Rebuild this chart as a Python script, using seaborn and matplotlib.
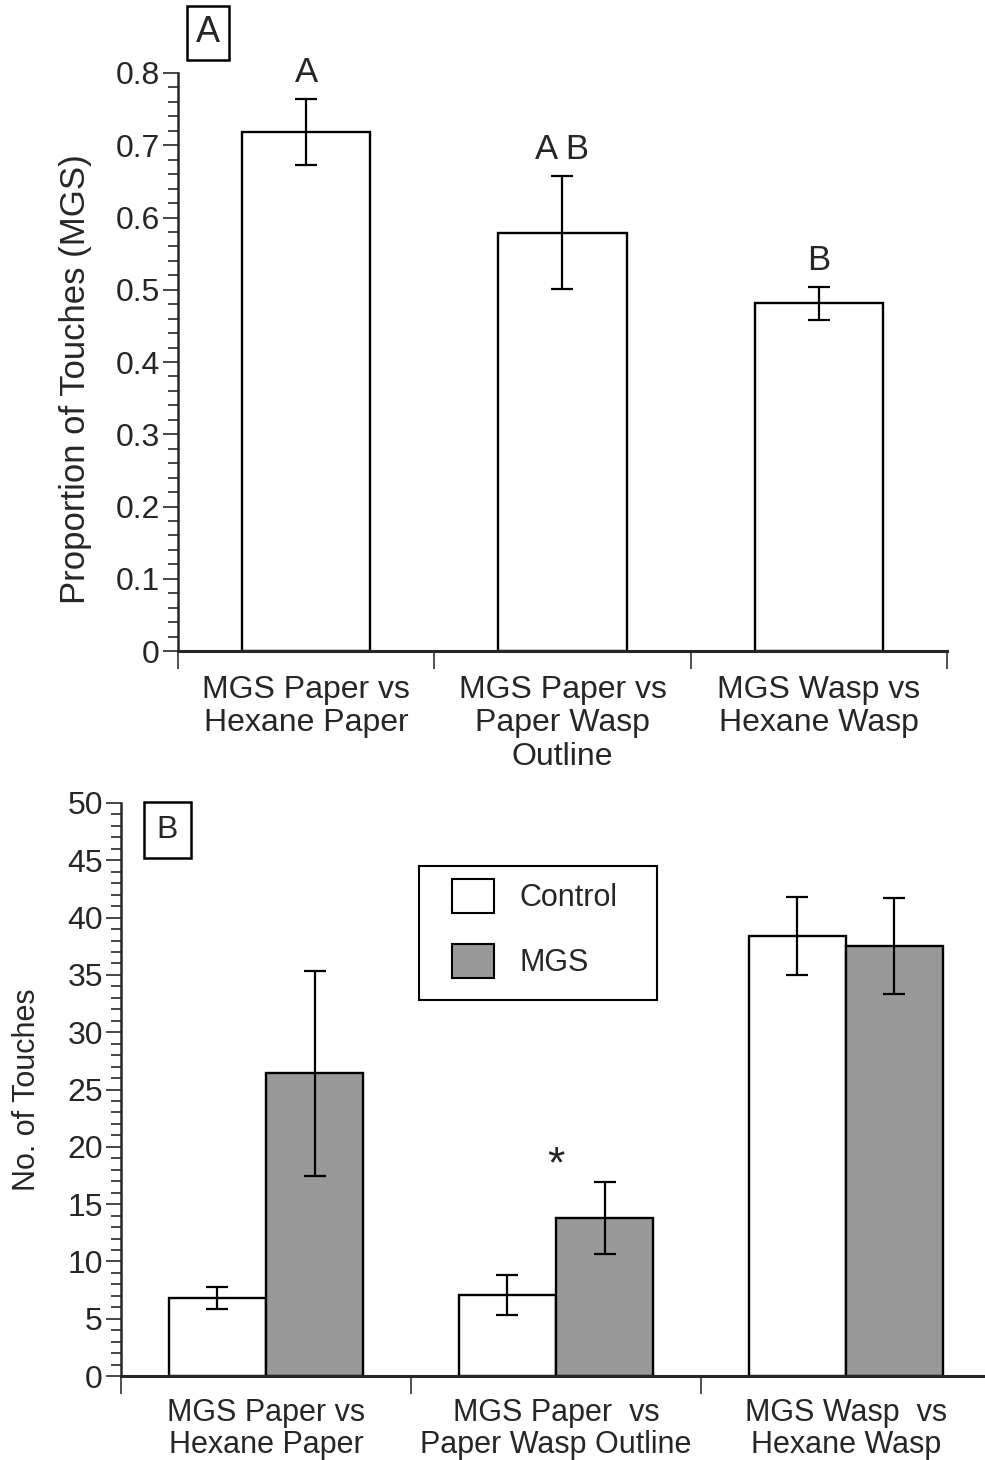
import pandas as pd
import matplotlib.pyplot as plt
import matplotlib.ticker as ticker
from matplotlib.patches import Patch, Rectangle
import seaborn as sns

# Panel A: proportion of touches on the MGS side
pairs_a = ["MGS Paper vs\nHexane Paper", "MGS Paper vs\nPaper Wasp\nOutline", "MGS Wasp vs\nHexane Wasp"]
prop_mgs = [0.718, 0.579, 0.481]
prop_err = [0.046, 0.078, 0.023]
sig_letters = ["A", "A B", "B"]

# Panel B: number of touches, control vs MGS
pairs_b = ["MGS Paper vs\nHexane Paper", "MGS Paper  vs\nPaper Wasp Outline", "MGS Wasp  vs\nHexane Wasp"]
groups = ["Control", "MGS"]
touch_control = [6.8, 7.05, 38.4]
touch_control_err = [0.96, 1.75, 3.4]
touch_mgs = [26.4, 13.8, 37.5]
touch_mgs_err = [8.95, 3.15, 4.2]
star_pair = 1

sns.set_style("ticks")
plt.rcParams["font.family"] = ["Liberation Sans", "DejaVu Sans"]

fig = plt.figure(figsize=(9.85, 14.6), dpi=100)
ax_a = fig.add_axes([0.1807, 0.5541, 0.7807, 0.3959])
ax_b = fig.add_axes([0.1228, 0.0575, 0.8832, 0.3925])

edge_lw = 1.7
err_kw = dict(fmt="none", ecolor="black", elinewidth=1.6, capsize=8, capthick=1.6, zorder=3)

# ---- Panel A ----
df_a = pd.DataFrame({"pair": pairs_a, "prop": prop_mgs})
sns.barplot(data=df_a, x="pair", y="prop", color="white", saturation=1,
            edgecolor="black", linewidth=edge_lw, width=0.5, errorbar=None, ax=ax_a)
xs = [b.get_x() + b.get_width() / 2 for b in ax_a.containers[0]]
ax_a.errorbar(xs, prop_mgs, yerr=prop_err, **err_kw)
for x, m, e, lab in zip(xs, prop_mgs, prop_err, sig_letters):
    ax_a.text(x, m + e + 0.037, lab, ha="center", va="center", fontsize=25)

ax_a.set_ylim(0, 0.8)
ax_a.set_xlim(-0.5, 2.5)
ax_a.yaxis.set_major_locator(ticker.MultipleLocator(0.1))
ax_a.yaxis.set_minor_locator(ticker.MultipleLocator(0.02))
ax_a.yaxis.set_major_formatter(ticker.FormatStrFormatter("%g"))
ax_a.set_ylabel("Proportion of Touches (MGS)", fontsize=25)
ax_a.yaxis.set_label_coords(-0.112, 0.47)
ax_a.set_xlabel("")

# ---- Panel B ----
df_b = pd.DataFrame({
    "pair": pairs_b * 2,
    "group": ["Control"] * 3 + ["MGS"] * 3,
    "touches": touch_control + touch_mgs,
})
palette = {"Control": "white", "MGS": "#999999"}
sns.barplot(data=df_b, x="pair", y="touches", hue="group", hue_order=groups,
            palette=palette, saturation=1, edgecolor="black", linewidth=edge_lw,
            width=0.67, errorbar=None, legend=False, ax=ax_b)
for cont, vals, errs in zip(ax_b.containers, [touch_control, touch_mgs],
                            [touch_control_err, touch_mgs_err]):
    bx = [b.get_x() + b.get_width() / 2 for b in cont]
    ax_b.errorbar(bx, vals, yerr=errs, **err_kw)

star_y = touch_mgs[star_pair] + touch_mgs_err[star_pair] + 1.4
ax_b.text(star_pair, star_y, "*", ha="center", va="center", fontsize=32)

ax_b.set_ylim(0, 50)
ax_b.set_xlim(-0.5, 2.5)
ax_b.yaxis.set_major_locator(ticker.MultipleLocator(5))
ax_b.yaxis.set_minor_locator(ticker.MultipleLocator(1))
ax_b.set_ylabel("No. of Touches", fontsize=22)
ax_b.yaxis.set_label_coords(-0.091, 0.5)
ax_b.set_xlabel("")

handles = [Patch(facecolor=palette[g], edgecolor="black", linewidth=1.5) for g in groups]
ax_b.legend(handles, groups, loc="upper left", bbox_to_anchor=(0.381, 0.868),
            frameon=False, fontsize=22, handlelength=1.35, handleheight=1.35,
            handletextpad=0.85, labelspacing=1.0, borderaxespad=0, borderpad=0)
ax_b.add_patch(Rectangle((0.3425, 0.656), 0.2736, 0.234, transform=ax_b.transAxes,
                         facecolor="none", edgecolor="black", linewidth=1.5, zorder=4))

# ---- shared axis styling ----
for ax, labels, size, spacing, pad in [(ax_a, pairs_a, 23, 1.15, 17), (ax_b, pairs_b, 22, 1.08, 16)]:
    for side in ["top", "right"]:
        ax.spines[side].set_visible(False)
    ax.spines["left"].set_linewidth(1.8)
    ax.spines["bottom"].set_linewidth(2.2)
    ax.tick_params(axis="y", which="major", direction="out", length=11, width=1.2,
                   labelsize=23, pad=2)
    ax.tick_params(axis="y", which="minor", direction="out", length=7, width=1.2)
    ax.set_xticks([0, 1, 2])
    ax.set_xticklabels(labels, fontsize=size, linespacing=spacing, va="top")
    ax.set_xticks([-0.5, 0.5, 1.5, 2.5], minor=True)
    ax.tick_params(axis="x", which="major", length=0, pad=pad)
    ax.tick_params(axis="x", which="minor", direction="out", length=13, width=1.2,
                   color="#333333")

# panel labels
fig.text(0.2112, 0.9774, "A", fontsize=26, ha="center", va="center",
         bbox=dict(boxstyle="square,pad=0.25", facecolor="white", edgecolor="black", linewidth=1.8))
fig.text(0.170, 0.4315, "B", fontsize=23, ha="center", va="center",
         bbox=dict(boxstyle="square,pad=0.4", facecolor="white", edgecolor="black", linewidth=1.8))

fig.savefig("out.png", dpi=100)
